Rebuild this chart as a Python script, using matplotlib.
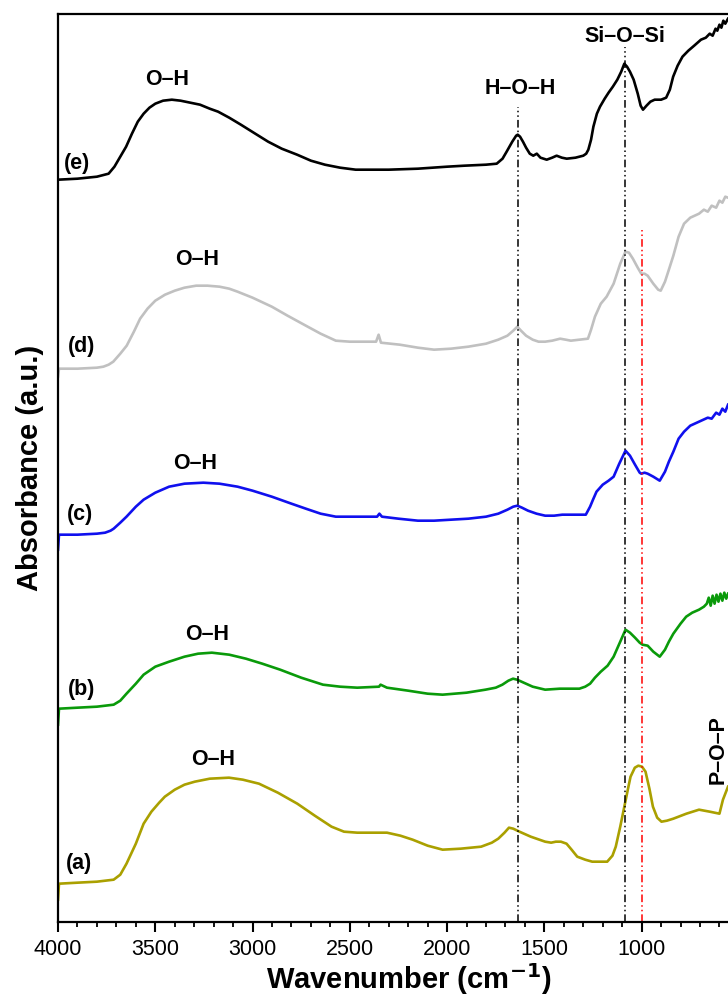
import matplotlib.pyplot as plt

plt.rcParams['font.family'] = ['Liberation Sans', 'DejaVu Sans']

# FTIR spectra, stacked with offsets (wavenumber in cm-1, absorbance in a.u.)
wn_e = [4000, 3900, 3800, 3740, 3710, 3680, 3650, 3620, 3590, 3560, 3530, 3500, 3460, 3415,
        3370, 3320, 3270, 3220, 3177, 3120, 3060, 2986, 2920, 2850, 2771, 2700, 2628, 2550,
        2470, 2389, 2300, 2150, 2000, 1911, 1800, 1745, 1715, 1694, 1665, 1645, 1637, 1625,
        1610, 1594, 1575, 1557, 1539, 1520, 1488, 1460, 1437, 1410, 1385, 1340, 1300, 1285,
        1274, 1260, 1248, 1230, 1214, 1190, 1170, 1148, 1125, 1105, 1089, 1075, 1060, 1041,
        1020, 1005, 993, 975, 955, 933, 900, 874, 855, 838, 815, 790, 760, 730, 695, 670,
        650, 635, 620, 611, 600, 590, 580, 570, 556]
abs_e = [7.42, 7.43, 7.45, 7.48, 7.55, 7.65, 7.75, 7.88, 8.00, 8.08, 8.14, 8.18, 8.21, 8.22,
         8.21, 8.19, 8.17, 8.13, 8.10, 8.04, 7.97, 7.88, 7.80, 7.73, 7.67, 7.61, 7.57, 7.54,
         7.52, 7.52, 7.52, 7.53, 7.55, 7.56, 7.57, 7.58, 7.63, 7.70, 7.80, 7.86, 7.87, 7.85,
         7.80, 7.74, 7.68, 7.66, 7.68, 7.64, 7.62, 7.64, 7.66, 7.64, 7.63, 7.64, 7.66, 7.68,
         7.72, 7.82, 7.95, 8.08, 8.15, 8.23, 8.29, 8.35, 8.42, 8.50, 8.58, 8.55, 8.50, 8.42,
         8.28, 8.16, 8.12, 8.16, 8.20, 8.22, 8.22, 8.24, 8.32, 8.45, 8.56, 8.65, 8.71, 8.76,
         8.82, 8.84, 8.88, 8.86, 8.93, 8.91, 8.97, 8.94, 9.01, 8.98, 9.03]

wn_d = [4000, 3995, 3900, 3800, 3767, 3740, 3716, 3680, 3647, 3610, 3578, 3540, 3500, 3450,
        3400, 3350, 3290, 3231, 3170, 3120, 3077, 3000, 2901, 2820, 2726, 2650, 2572, 2500,
        2418, 2365, 2352, 2340, 2243, 2150, 2067, 1980, 1891, 1800, 1737, 1690, 1660, 1639,
        1620, 1594, 1560, 1530, 1496, 1460, 1419, 1390, 1364, 1320, 1276, 1260, 1240, 1210,
        1180, 1144, 1110, 1083, 1065, 1045, 1020, 1002, 985, 969, 940, 915, 902, 880, 860,
        837, 810, 782, 750, 705, 680, 660, 640, 617, 600, 585, 570, 556]
abs_d = [5.45, 5.53, 5.53, 5.54, 5.55, 5.57, 5.60, 5.68, 5.76, 5.90, 6.03, 6.13, 6.21, 6.27,
         6.31, 6.34, 6.36, 6.36, 6.35, 6.33, 6.30, 6.24, 6.15, 6.06, 5.96, 5.88, 5.81, 5.80,
         5.80, 5.80, 5.87, 5.79, 5.77, 5.74, 5.72, 5.73, 5.75, 5.78, 5.82, 5.86, 5.91, 5.95,
         5.91, 5.86, 5.82, 5.80, 5.80, 5.81, 5.83, 5.82, 5.81, 5.82, 5.83, 5.92, 6.05, 6.18,
         6.25, 6.38, 6.58, 6.70, 6.69, 6.63, 6.54, 6.48, 6.48, 6.46, 6.38, 6.32, 6.31, 6.40,
         6.52, 6.66, 6.85, 6.98, 7.04, 7.08, 7.12, 7.10, 7.16, 7.14, 7.21, 7.19, 7.25, 7.24]

wn_c = [4000, 3995, 3900, 3800, 3758, 3730, 3714, 3680, 3648, 3600, 3560, 3500, 3429, 3350,
        3253, 3170, 3077, 3000, 2901, 2800, 2726, 2650, 2572, 2500, 2418, 2360, 2348, 2335,
        2250, 2150, 2067, 1980, 1891, 1800, 1737, 1690, 1660, 1639, 1615, 1584, 1540, 1496,
        1450, 1408, 1350, 1287, 1265, 1250, 1232, 1200, 1170, 1144, 1115, 1083, 1060, 1034,
        1010, 1002, 985, 969, 940, 907, 880, 860, 837, 810, 782, 750, 705, 660, 640, 617, 600,
        585, 570, 556]
abs_c = [3.72, 3.87, 3.87, 3.88, 3.89, 3.91, 3.93, 3.99, 4.05, 4.15, 4.22, 4.29, 4.35, 4.38,
         4.39, 4.38, 4.35, 4.31, 4.25, 4.18, 4.13, 4.08, 4.05, 4.05, 4.05, 4.05, 4.08, 4.05,
         4.03, 4.01, 4.01, 4.02, 4.03, 4.05, 4.08, 4.12, 4.15, 4.16, 4.14, 4.11, 4.08, 4.06,
         4.06, 4.07, 4.07, 4.07, 4.15, 4.22, 4.30, 4.37, 4.41, 4.45, 4.58, 4.71, 4.66, 4.57,
         4.49, 4.48, 4.49, 4.48, 4.45, 4.41, 4.50, 4.60, 4.70, 4.83, 4.90, 4.96, 5.00, 5.04,
         5.03, 5.09, 5.07, 5.13, 5.10, 5.17]

wn_b = [4000, 3995, 3900, 3800, 3714, 3680, 3648, 3600, 3560, 3500, 3429, 3350, 3280, 3209,
        3120, 3034, 2950, 2858, 2750, 2638, 2550, 2462, 2350, 2342, 2309, 2200, 2100, 2023,
        1900, 1803, 1750, 1716, 1685, 1661, 1640, 1606, 1560, 1496, 1420, 1350, 1320, 1290,
        1265, 1240, 1210, 1175, 1144, 1110, 1083, 1060, 1034, 1010, 995, 969, 940, 907, 880,
        860, 837, 800, 771, 740, 705, 680, 665, 655, 645, 635, 625, 615, 605, 595, 585, 575,
        565, 556]
abs_b = [1.97, 2.13, 2.14, 2.15, 2.17, 2.21, 2.28, 2.38, 2.47, 2.55, 2.60, 2.65, 2.68, 2.69,
         2.67, 2.63, 2.58, 2.52, 2.44, 2.37, 2.35, 2.34, 2.35, 2.37, 2.34, 2.31, 2.28, 2.27,
         2.29, 2.32, 2.34, 2.37, 2.41, 2.43, 2.42, 2.39, 2.35, 2.32, 2.33, 2.33, 2.33, 2.35,
         2.38, 2.44, 2.50, 2.56, 2.65, 2.80, 2.92, 2.89, 2.84, 2.79, 2.77, 2.76, 2.70, 2.65,
         2.72, 2.80, 2.88, 2.98, 3.05, 3.09, 3.12, 3.15, 3.18, 3.24, 3.16, 3.26, 3.18, 3.27,
         3.20, 3.28, 3.21, 3.29, 3.23, 3.28]

wn_a = [4000, 3995, 3900, 3800, 3714, 3680, 3648, 3600, 3560, 3520, 3480, 3451, 3400, 3350,
        3297, 3220, 3121, 3050, 2967, 2870, 2770, 2680, 2594, 2530, 2462, 2380, 2309, 2240,
        2177, 2100, 2023, 1930, 1825, 1770, 1737, 1705, 1682, 1660, 1628, 1570, 1496, 1465,
        1441, 1415, 1386, 1360, 1331, 1290, 1254, 1210, 1177, 1150, 1133, 1110, 1089, 1070,
        1057, 1035, 1017, 998, 980, 960, 942, 920, 898, 870, 837, 770, 705, 650, 600, 582, 556]
abs_a = [0.22, 0.38, 0.39, 0.40, 0.42, 0.47, 0.58, 0.78, 0.98, 1.10, 1.19, 1.25, 1.32, 1.37,
         1.40, 1.43, 1.44, 1.42, 1.38, 1.29, 1.18, 1.06, 0.95, 0.90, 0.89, 0.89, 0.89, 0.86,
         0.82, 0.76, 0.72, 0.73, 0.75, 0.79, 0.83, 0.89, 0.94, 0.93, 0.90, 0.85, 0.80, 0.79,
         0.80, 0.80, 0.78, 0.72, 0.65, 0.62, 0.60, 0.60, 0.60, 0.66, 0.75, 0.95, 1.15, 1.33,
         1.45, 1.54, 1.56, 1.55, 1.50, 1.33, 1.15, 1.04, 1.00, 1.01, 1.03, 1.08, 1.12, 1.10,
         1.08, 1.22, 1.35]

spectra = [
    (wn_a, abs_a, '#aaa000', '(a)'),
    (wn_b, abs_b, '#0a9a0a', '(b)'),
    (wn_c, abs_c, '#1010ee', '(c)'),
    (wn_d, abs_d, '#c0c0c0', '(d)'),
    (wn_e, abs_e, 'black', '(e)'),
]
sample_label_pos = [(3890, 0.58), (3879, 2.32), (3889, 4.07), (3879, 5.75), (3904, 7.58)]
oh_label_pos = [(3205, 1.62), (3236, 2.87), (3293, 4.58), (3286, 6.62), (3440, 8.42)]

# band guide lines: (position, top, colour)
band_lines = [(1636, 8.15, 'black'), (1083, 8.75, 'black'), (1000, 6.92, 'red')]

fig = plt.figure(figsize=(7.28, 9.99), dpi=100)
ax = fig.add_axes([0.0797, 0.0774, 0.962, 0.9086])

for (wn, ab, col, lab), lp, op in zip(spectra, sample_label_pos, oh_label_pos):
    ax.plot(wn, ab, color=col, lw=1.9)
    ax.text(lp[0], lp[1], lab, fontsize=15.5, fontweight='bold', ha='center', va='center')
    ax.text(op[0], op[1], 'O–H', fontsize=15.5, fontweight='bold', ha='center', va='center')

for pos, top, col in band_lines:
    ax.plot([pos, pos], [0, top], color=col, lw=1.1, dashes=(5, 2, 1, 2, 1, 2))

ax.text(1625, 8.33, 'H–O–H', fontsize=15.5, fontweight='bold', ha='center', va='center')
ax.text(1085, 8.85, 'Si–O–Si', fontsize=15.5, fontweight='bold', ha='center', va='center')
ax.text(606, 1.72, 'P–O–P', fontsize=15.5, fontweight='bold', ha='center', va='center',
        rotation=90)

ax.set_xlim(4000, 400)
ax.set_ylim(0, 9.077)
ax.set_xticks([4000, 3500, 3000, 2500, 2000, 1500, 1000])
ax.set_xticks(range(4000, 399, -100), minor=True)
ax.set_yticks([])
ax.tick_params(axis='x', which='major', length=7.5, width=1.5, direction='out',
               labelsize=15.5, pad=5)
ax.tick_params(axis='x', which='minor', length=3.8, width=1.3, direction='out')
for sp in ax.spines.values():
    sp.set_linewidth(1.6)

ax.set_xlabel('Wavenumber (cm$^{\\mathbf{-1}}$)', fontsize=21, fontweight='bold', labelpad=1)
ax.set_ylabel('Absorbance (a.u.)', fontsize=21, fontweight='bold', labelpad=10)

plt.savefig('out.png', dpi=100)
